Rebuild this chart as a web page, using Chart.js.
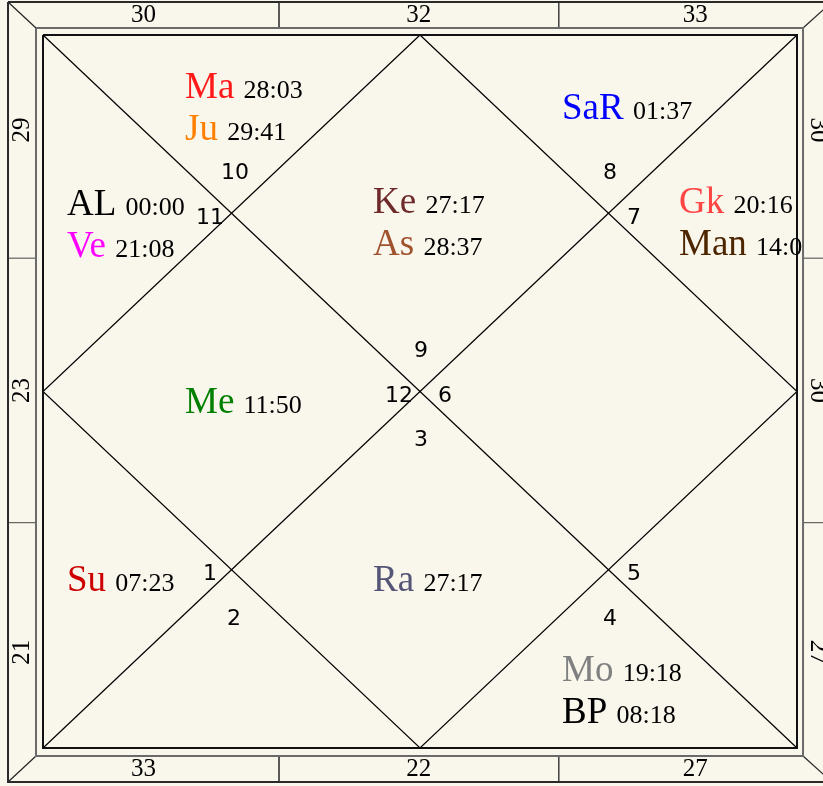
<!DOCTYPE html>
<html>
<head>
<meta charset="utf-8">
<script src="https://cdn.jsdelivr.net/npm/chart.js@4"></script>
<style>
html,body{margin:0;padding:0;background:#f9f6ec;}
#wrap{width:823px;height:786px;position:relative;}
</style>
</head>
<body>
<div id="wrap"><canvas id="kundli"></canvas></div>
<script>
// sign number sitting in house 1..12
const signs=[9,10,11,12,1,2,3,4,5,6,7,8];
// grahas, their degrees and the house they sit in
const planets=['Ke','As','Ma','Ju','AL','Ve','Me','Su','Ra','Mo','BP','SaR','Gk','Man'];
const degrees=['27:17','28:37','28:03','29:41','00:00','21:08','11:50','07:23','27:17','19:18','08:18','01:37','20:16','14:00'];
const planetHouse=[1,1,2,2,3,3,4,5,7,8,8,12,11,11];
const planetColors=['#6e2a2a','#a0522d','#ff1a1a','#ff7f00','#000000','#ff00ff','#008000','#cc0000','#555577','#808080','#000000','#0000ff','#ff4444','#4d2600'];
// degree labels on the border strip
const topLabels=['30','32','33'];
const bottomLabels=['33','22','27'];
const leftLabels=['29','23','21'];
const rightLabels=['30','30','27'];

// chart units: inner square runs 0..1 on both axes (y downwards)
const houseAnchor={1:[0.4377,0.2497],2:[0.1883,0.0884],3:[0.0318,0.2525],4:[0.1883,0.5302],
  5:[0.0318,0.7798],6:[0.1883,0.906],7:[0.4377,0.7798],8:[0.6883,0.906],
  9:[0.8435,0.7798],10:[0.6883,0.5302],11:[0.8435,0.2497],12:[0.6883,0.1178]};
const signPos={1:[0.5013,0.4432],2:[0.2546,0.1935],3:[0.2215,0.2567],4:[0.4721,0.5063],
  5:[0.2215,0.756],6:[0.2533,0.8191],7:[0.5013,0.568],8:[0.752,0.8191],
  9:[0.7838,0.756],10:[0.5332,0.5063],11:[0.7838,0.2567],12:[0.752,0.1935]};
const lineStep=0.0589;

const G={l:-0.0093,t:-0.0098,r:1.008,b:1.0112};   // grey frame
const O={l:-0.0464,t:-0.0463,r:1.0464,b:1.0477};  // outer frame
const tickA=0.313, tickB=0.684;

function poly(pts,color,w){
  return {data:pts.map(p=>({x:p[0],y:p[1]})),showLine:true,borderColor:color,borderWidth:w,
    pointRadius:0,fill:false,clip:false,tension:0};
}
function rect(l,t,r,b,color,w){return poly([[l,t],[r,t],[r,b],[l,b],[l,t]],color,w);}

const lines=[
  rect(O.l,O.t,O.r,O.b,'#2a2a2a',2),
  rect(G.l,G.t,G.r,G.b,'#6a6a6a',2),
  rect(0,0,1,1,'#111111',2),
  poly([[0,0],[1,1]],'#000',1.2),
  poly([[1,0],[0,1]],'#000',1.2),
  poly([[0.5,0],[1,0.5],[0.5,1],[0,0.5],[0.5,0]],'#000',1.2),
  poly([[O.l,O.t],[G.l,G.t]],'#222',1.2),
  poly([[O.r,O.t],[G.r,G.t]],'#222',1.2),
  poly([[O.l,O.b],[G.l,G.b]],'#222',1.2),
  poly([[O.r,O.b],[G.r,G.b]],'#222',1.2),
  poly([[tickA,O.t],[tickA,G.t]],'#444',1),
  poly([[tickB,O.t],[tickB,G.t]],'#444',1),
  poly([[tickA,G.b],[tickA,O.b]],'#444',1),
  poly([[tickB,G.b],[tickB,O.b]],'#444',1),
  poly([[O.l,tickA],[G.l,tickA]],'#444',1),
  poly([[O.l,tickB],[G.l,tickB]],'#444',1),
  poly([[G.r,tickA],[O.r,tickA]],'#444',1),
  poly([[G.r,tickB],[O.r,tickB]],'#444',1)
];

const bgPlugin={id:'bg',beforeDraw(chart){
  const c=chart.ctx;c.save();c.fillStyle='#f9f6ec';c.fillRect(0,0,chart.width,chart.height);c.restore();
}};

const textPlugin={id:'texts',afterDatasetsDraw(chart){
  const c=chart.ctx,xs=chart.scales.x,ys=chart.scales.y;
  const px=u=>xs.getPixelForValue(u), py=v=>ys.getPixelForValue(v);
  c.save();
  // house (sign) numbers
  c.font='22px "DejaVu Sans", sans-serif';c.fillStyle='#000';c.textAlign='center';c.textBaseline='middle';
  signs.forEach((s,i)=>{const p=signPos[i+1];c.fillText(String(s),px(p[0]),py(p[1]));});
  // border degree labels
  c.font='25px "Liberation Serif", serif';
  const midT=(O.t+G.t)/2, midB=(G.b+O.b)/2, midL=(O.l+G.l)/2, midR=(G.r+O.r)/2;
  const segs=[(O.l+tickA)/2,(tickA+tickB)/2,(tickB+O.r)/2];
  const segsV=[(O.t+tickA)/2,(tickA+tickB)/2,(tickB+O.b)/2];
  topLabels.forEach((t,i)=>c.fillText(t,px(segs[i]),py(midT)));
  bottomLabels.forEach((t,i)=>c.fillText(t,px(segs[i]),py(midB)));
  leftLabels.forEach((t,i)=>{c.save();c.translate(px(midL),py(segsV[i]));c.rotate(-Math.PI/2);c.fillText(t,0,0);c.restore();});
  rightLabels.forEach((t,i)=>{c.save();c.translate(px(midR),py(segsV[i]));c.rotate(Math.PI/2);c.fillText(t,0,0);c.restore();});
  // planets, clipped to the grey frame
  c.beginPath();c.rect(px(G.l),py(G.t),px(G.r)-px(G.l),py(G.b)-py(G.t));c.clip();
  c.textAlign='left';c.textBaseline='alphabetic';
  const count={};
  planets.forEach((p,i)=>{
    const h=planetHouse[i];const n=count[h]||0;count[h]=n+1;
    const a=houseAnchor[h];
    const x=px(a[0]),y=py(a[1]+n*lineStep);
    c.font='37px "Liberation Serif", serif';c.fillStyle=planetColors[i];
    c.fillText(p,x,y);
    const w=c.measureText(p+' ').width;
    c.font='26px "Liberation Serif", serif';c.fillStyle='#000';
    c.fillText(degrees[i],x+w,y);
  });
  c.restore();
}};

new Chart(document.getElementById('kundli'),{
  type:'scatter',
  data:{datasets:lines},
  options:{
    responsive:true,maintainAspectRatio:false,animation:false,devicePixelRatio:1,
    layout:{padding:0},
    plugins:{legend:{display:false},tooltip:{enabled:false}},
    scales:{
      x:{type:'linear',display:false,min:-43/754,max:780/754},
      y:{type:'linear',display:false,reverse:true,min:-35/713,max:751/713}
    }
  },
  plugins:[bgPlugin,textPlugin]
});
</script>
</body>
</html>
